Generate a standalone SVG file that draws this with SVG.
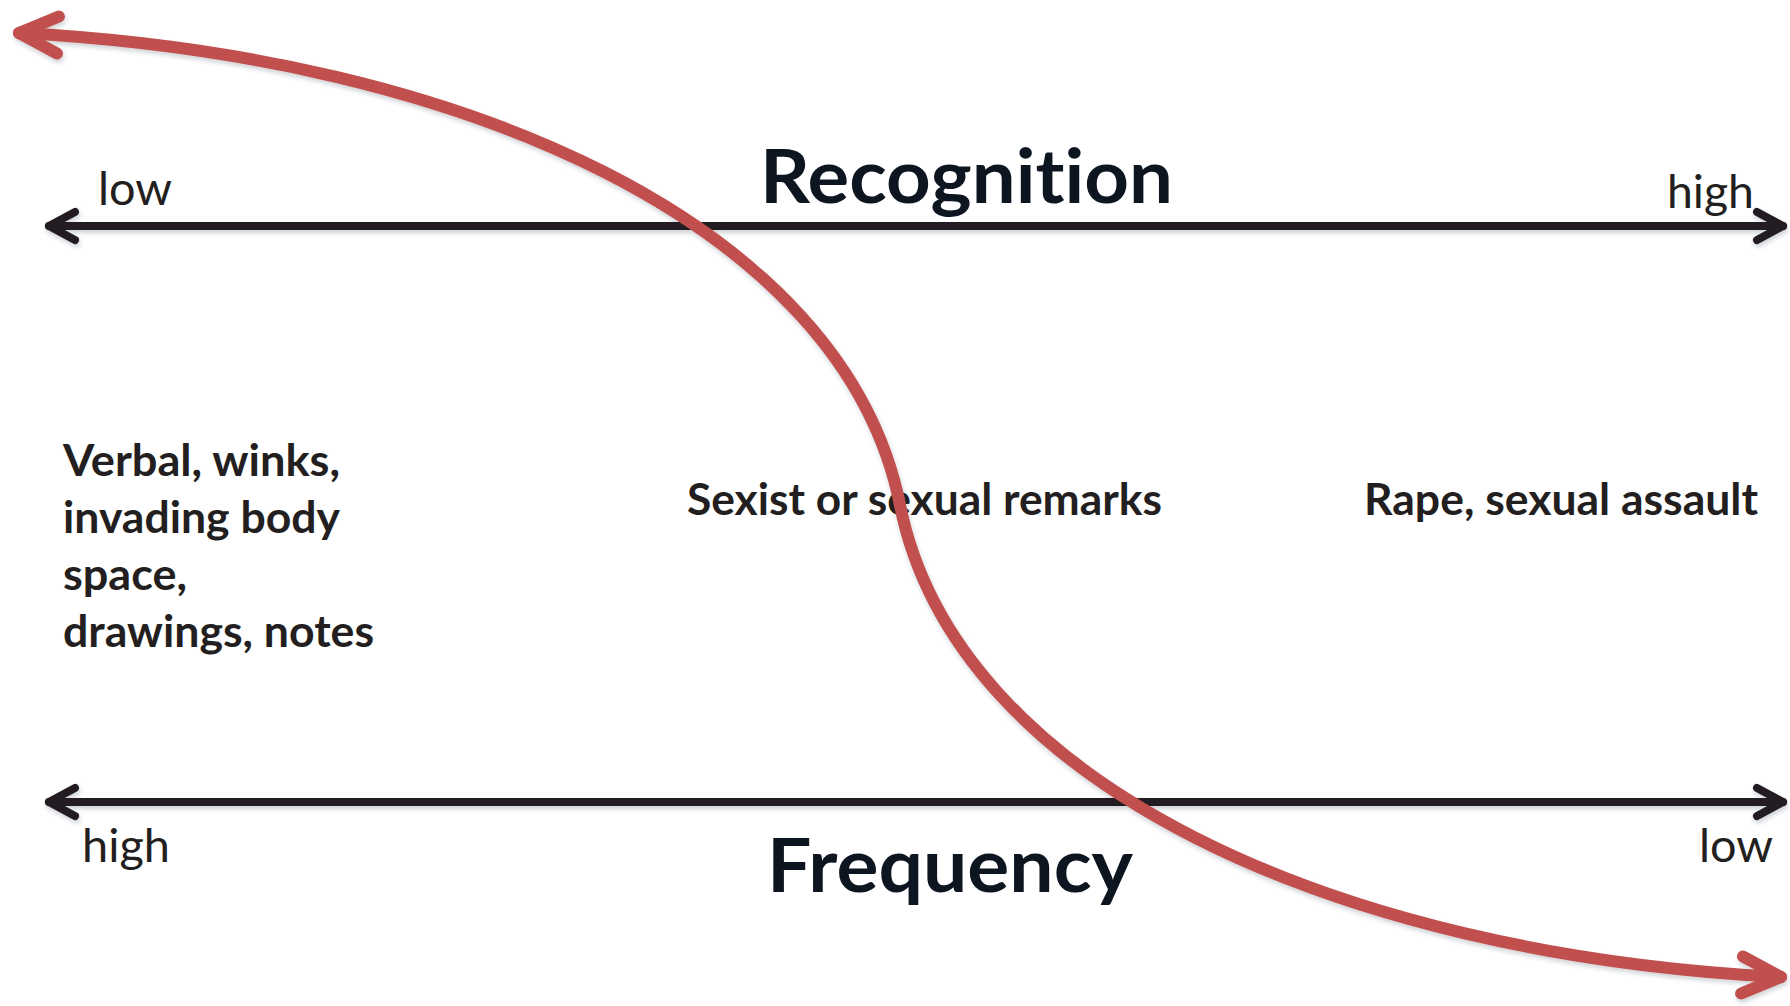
<svg xmlns="http://www.w3.org/2000/svg" width="1790" height="1006" viewBox="0 0 1790 1006">
  <style>
    text { font-variant-ligatures: none; font-feature-settings: "liga" 0, "clig" 0; }
    .title { font-family: Lato, "Open Sans", sans-serif; font-weight: 700; font-size: 75px; fill: #0d1520; }
    .lbl { font-family: Lato, "Open Sans", sans-serif; font-weight: 400; font-size: 47px; fill: #231f20; }
    .body { font-family: Lato, "Open Sans", sans-serif; font-weight: 700; font-size: 44px; fill: #231f20; }
    .axis { fill: none; stroke: #231f20; stroke-width: 8; stroke-linecap: round; stroke-linejoin: round; }
    .curve { fill: none; stroke: #c0504d; stroke-width: 12; stroke-linecap: round; stroke-linejoin: round; }
  </style>
  <defs>
    <filter id="shadow" x="-5%" y="-5%" width="110%" height="115%">
      <feDropShadow dx="1" dy="3" stdDeviation="2" flood-color="#203050" flood-opacity="0.22"/>
    </filter>
    <marker id="blackHead" markerUnits="userSpaceOnUse" viewBox="-40 -30 50 60" refX="0" refY="0" markerWidth="50" markerHeight="60" orient="auto-start-reverse" overflow="visible">
      <path d="M-26,-14 L0,0 L-26,14" fill="none" stroke="#231f20" stroke-width="8" stroke-linecap="round" stroke-linejoin="round"/>
    </marker>
    <marker id="redHead" markerUnits="userSpaceOnUse" viewBox="-50 -30 60 60" refX="0" refY="0" markerWidth="60" markerHeight="60" orient="auto-start-reverse" overflow="visible">
      <path d="M-39,-18.5 L0,0 L-39,18.5" fill="none" stroke="#c0504d" stroke-width="12" stroke-linecap="round" stroke-linejoin="round"/>
    </marker>
  </defs>
  <rect width="1790" height="1006" fill="#ffffff"/>

  <g id="recognition-title"><text class="title" x="760" y="203" textLength="413" lengthAdjust="spacingAndGlyphs">Recognition</text></g>
  <g id="frequency-title"><text class="title" x="767" y="892" textLength="366" lengthAdjust="spacingAndGlyphs">Frequency</text></g>

  <g id="recognition-low"><text class="lbl" x="98" y="205" textLength="74" lengthAdjust="spacingAndGlyphs">low</text></g>
  <g id="recognition-high"><text class="lbl" x="1667" y="208" textLength="87" lengthAdjust="spacingAndGlyphs">high</text></g>
  <g id="frequency-high"><text class="lbl" x="82" y="862" textLength="88" lengthAdjust="spacingAndGlyphs">high</text></g>
  <g id="frequency-low"><text class="lbl" x="1699" y="862" textLength="74" lengthAdjust="spacingAndGlyphs">low</text></g>

  <g id="verbal-node">
    <text class="body" x="63" y="476" textLength="277" lengthAdjust="spacingAndGlyphs">Verbal, winks,</text>
    <text class="body" x="63" y="533" textLength="277" lengthAdjust="spacingAndGlyphs">invading body</text>
    <text class="body" x="63" y="590" textLength="124" lengthAdjust="spacingAndGlyphs">space,</text>
    <text class="body" x="63" y="647" textLength="311" lengthAdjust="spacingAndGlyphs">drawings, notes</text>
  </g>
  <g id="sexist-node"><text class="body" x="687" y="515" textLength="475" lengthAdjust="spacingAndGlyphs">Sexist or sexual remarks</text></g>
  <g id="rape-node"><text class="body" x="1364" y="515" textLength="394" lengthAdjust="spacingAndGlyphs">Rape, sexual assault</text></g>

  <g id="connectors" filter="url(#shadow)">
    <path id="recognition-axis" class="axis" d="M49,226 H1783" marker-start="url(#blackHead)" marker-end="url(#blackHead)"/>
    <path id="frequency-axis" class="axis" d="M49,802 H1783" marker-start="url(#blackHead)" marker-end="url(#blackHead)"/>
    <path id="trend-curve" class="curve" d="M19,33 C463,55.5 844,225 900,505 C956,785 1337,954.5 1781,977" marker-start="url(#redHead)" marker-end="url(#redHead)"/>
  </g>
</svg>
